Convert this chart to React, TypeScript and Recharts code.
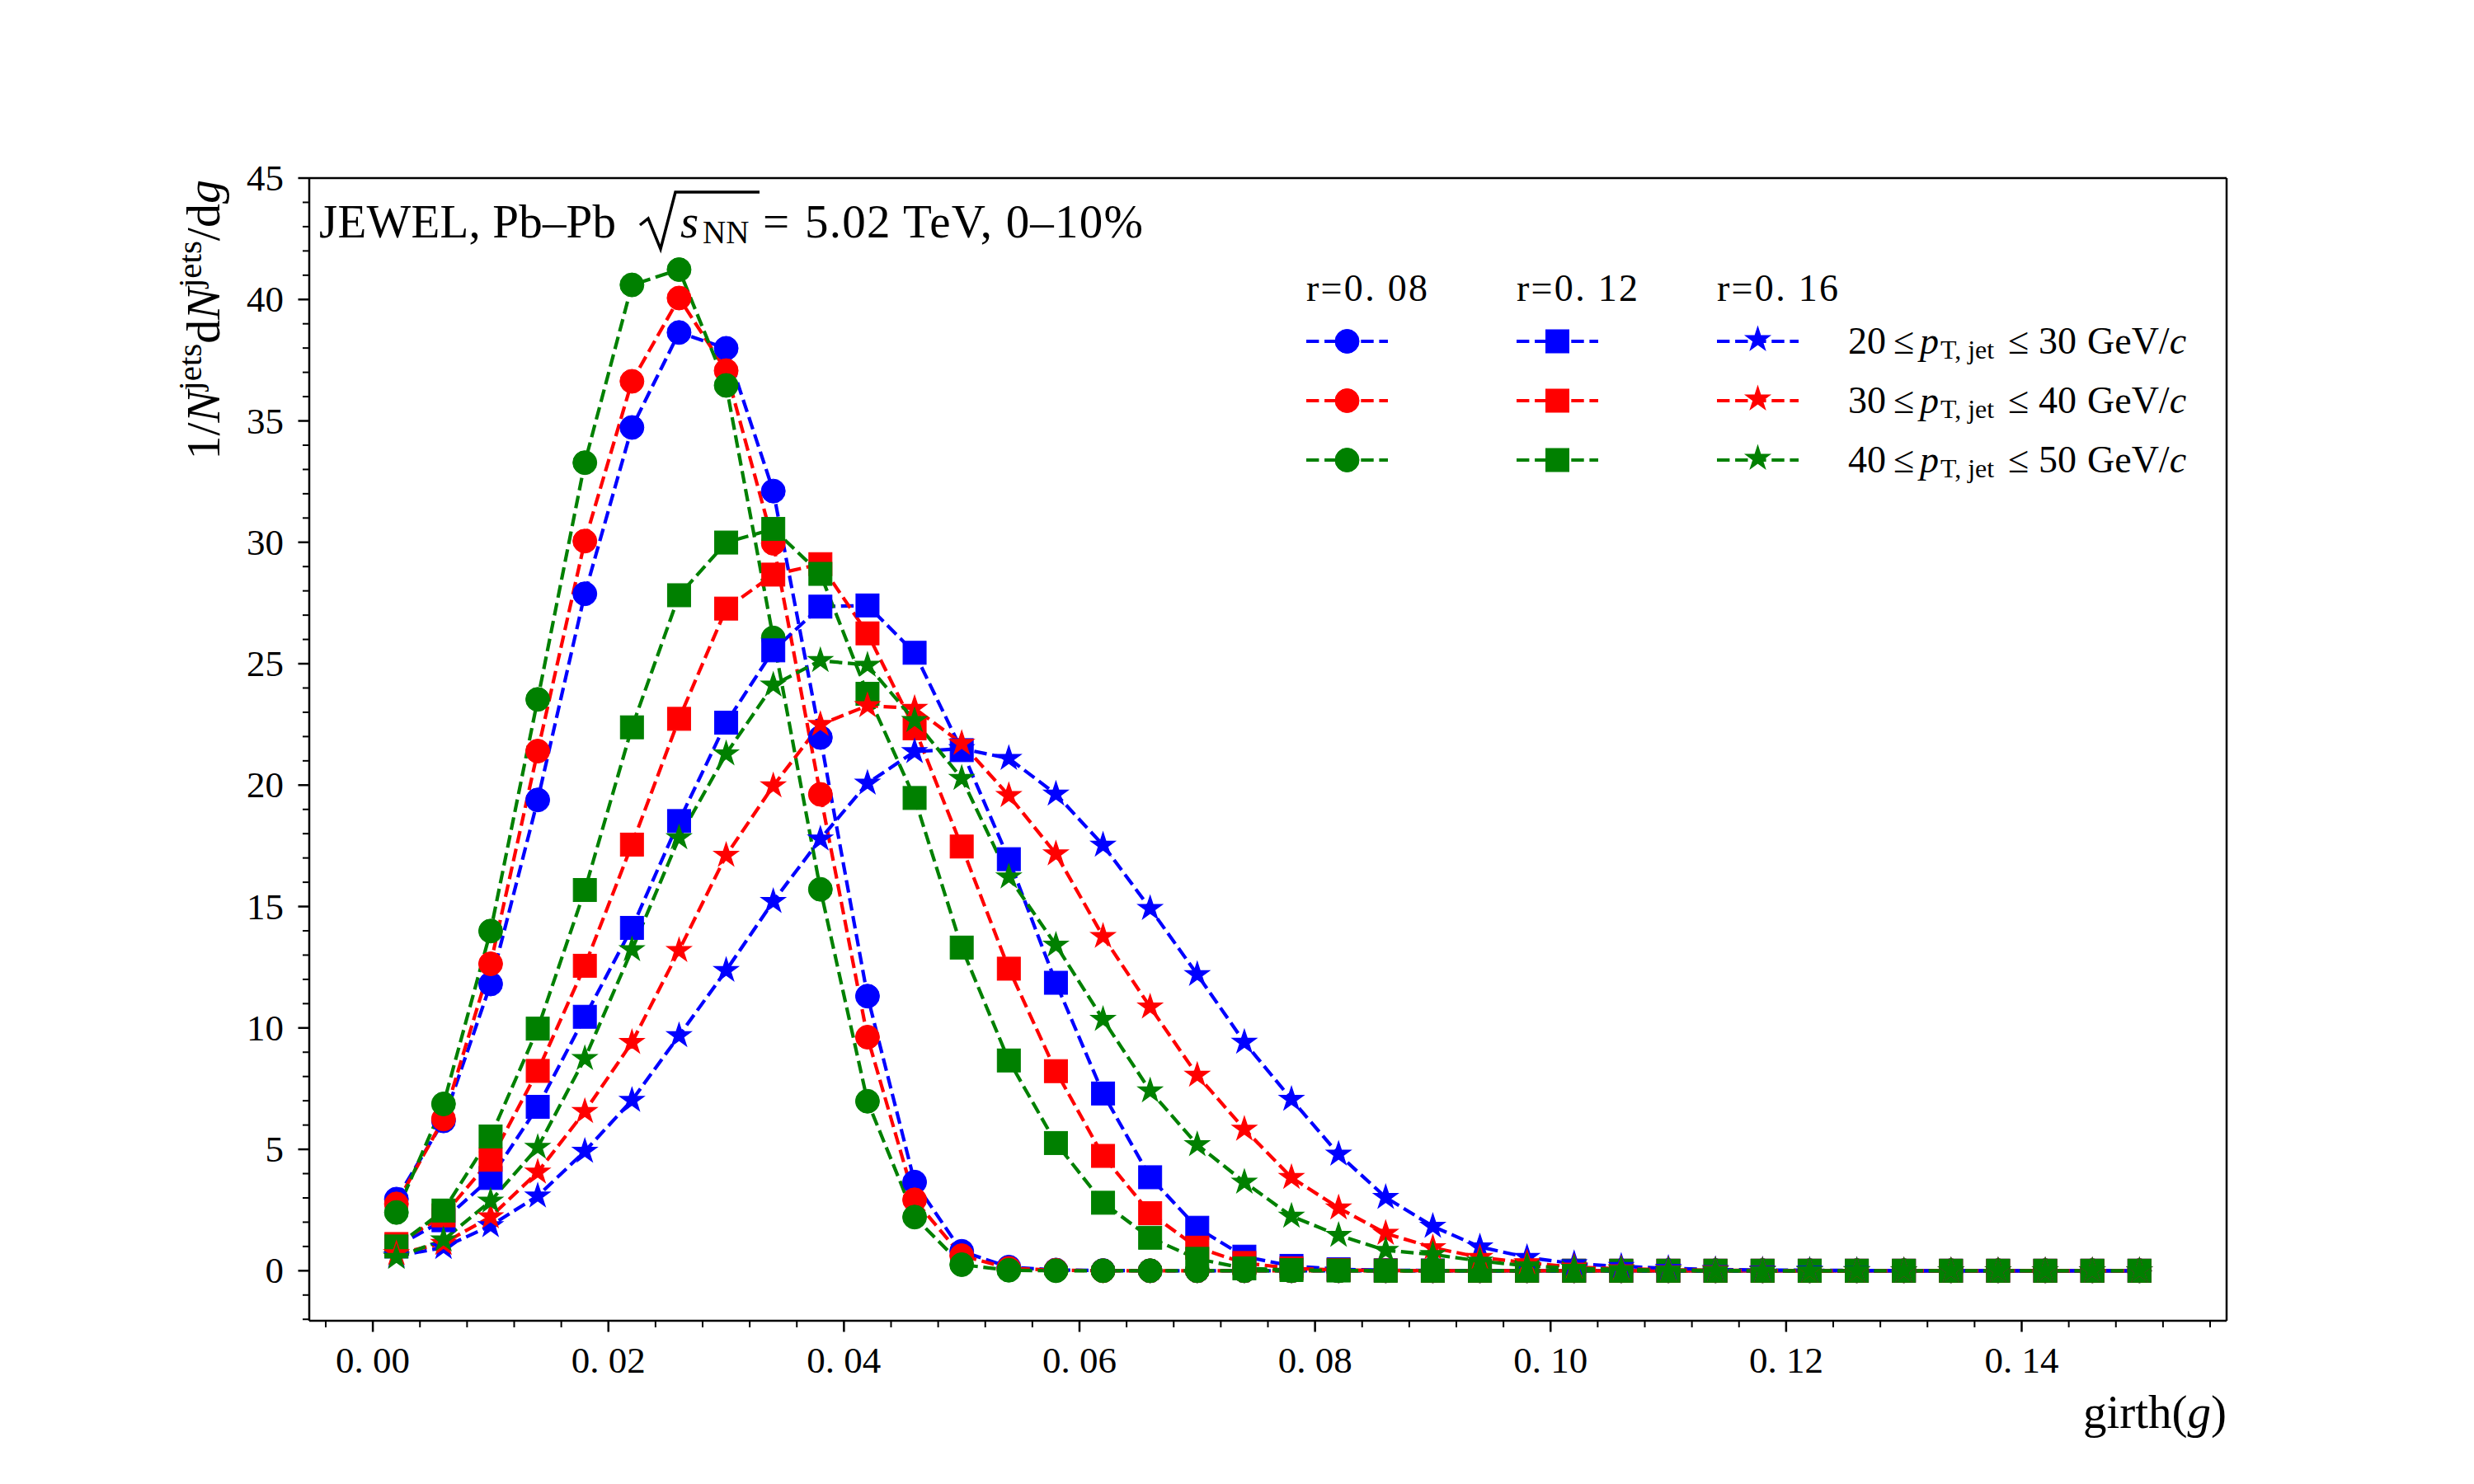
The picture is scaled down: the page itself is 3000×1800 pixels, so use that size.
import React from 'react';
import { LineChart, Line, XAxis, YAxis, ReferenceLine } from 'recharts';

// ---------- data ----------
const GIRTH = [
  0.002, 0.006, 0.010, 0.014, 0.018, 0.022, 0.026, 0.030, 0.034, 0.038,
  0.042, 0.046, 0.050, 0.054, 0.058, 0.062, 0.066, 0.070, 0.074, 0.078,
  0.082, 0.086, 0.090, 0.094, 0.098, 0.102, 0.106, 0.110, 0.114, 0.118,
  0.122, 0.126, 0.130, 0.134, 0.138, 0.142, 0.146, 0.150,
];

// r = 0.08 (circles)
const R008_PT20 = [
  2.95, 6.17, 11.81, 19.39, 27.88, 34.73, 38.64, 37.99, 32.11, 21.96,
  11.31, 3.65, 0.80, 0.15, 0.03, 0.01, 0, 0, 0, 0,
  0, 0, 0, 0, 0, 0, 0, 0, 0, 0,
  0, 0, 0, 0, 0, 0, 0, 0,
];
const R008_PT30 = [
  2.75, 6.25, 12.64, 21.40, 30.05, 36.63, 40.06, 37.07, 29.96, 19.62,
  9.62, 2.92, 0.62, 0.10, 0.02, 0, 0, 0, 0, 0,
  0, 0, 0, 0, 0, 0, 0, 0, 0, 0,
  0, 0, 0, 0, 0, 0, 0, 0,
];
const R008_PT40 = [
  2.40, 6.87, 13.99, 23.53, 33.28, 40.60, 41.23, 36.46, 26.06, 15.71,
  6.98, 2.21, 0.25, 0.02, 0, 0, 0, 0, 0, 0,
  0, 0, 0, 0, 0, 0, 0, 0, 0, 0,
  0, 0, 0, 0, 0, 0, 0, 0,
];

// r = 0.12 (squares)
const R012_PT20 = [
  1.00, 2.08, 3.82, 6.75, 10.46, 14.12, 18.52, 22.57, 25.55, 27.35,
  27.40, 25.45, 21.44, 16.95, 11.86, 7.30, 3.85, 1.77, 0.58, 0.20,
  0.06, 0.02, 0.01, 0, 0, 0, 0, 0, 0, 0,
  0, 0, 0, 0, 0, 0, 0, 0,
];
const R012_PT30 = [
  1.10, 2.28, 4.57, 8.23, 12.56, 17.55, 22.73, 27.27, 28.67, 29.10,
  26.25, 22.34, 17.47, 12.44, 8.22, 4.73, 2.37, 0.95, 0.32, 0.10,
  0.03, 0.01, 0, 0, 0, 0, 0, 0, 0, 0,
  0, 0, 0, 0, 0, 0, 0, 0,
];
const R012_PT40 = [
  1.00, 2.48, 5.53, 9.97, 15.68, 22.38, 27.82, 29.99, 30.55, 28.70,
  23.76, 19.47, 13.31, 8.66, 5.26, 2.80, 1.36, 0.49, 0.10, 0.03,
  0.01, 0, 0, 0, 0, 0, 0, 0, 0, 0,
  0, 0, 0, 0, 0, 0, 0, 0,
];

// r = 0.16 (stars)
const R016_PT20 = [
  0.60, 0.96, 1.86, 3.08, 4.92, 7.02, 9.68, 12.37, 15.21, 17.78,
  20.08, 21.38, 21.50, 21.10, 19.63, 17.53, 14.92, 12.20, 9.41, 7.06,
  4.80, 3.02, 1.83, 0.98, 0.55, 0.29, 0.18, 0.10, 0.05, 0.03,
  0.02, 0.01, 0, 0, 0, 0, 0, 0,
];
const R016_PT30 = [
  0.70, 1.13, 2.22, 4.06, 6.56, 9.40, 13.19, 17.11, 19.97, 22.50,
  23.27, 23.16, 21.72, 19.57, 17.17, 13.77, 10.86, 8.05, 5.83, 3.84,
  2.59, 1.54, 0.95, 0.55, 0.33, 0.15, 0.08, 0.04, 0.02, 0.01,
  0, 0, 0, 0, 0, 0, 0, 0,
];
const R016_PT40 = [
  0.55, 1.27, 2.87, 5.08, 8.74, 13.22, 17.83, 21.29, 24.12, 25.13,
  24.94, 22.66, 20.28, 16.22, 13.41, 10.35, 7.41, 5.19, 3.65, 2.25,
  1.46, 0.84, 0.67, 0.40, 0.20, 0.10, 0.05, 0.02, 0.01, 0,
  0, 0, 0, 0, 0, 0, 0, 0,
];

const X_MAJOR_TICKS = [0, 0.02, 0.04, 0.06, 0.08, 0.1, 0.12, 0.14];
const Y_MAJOR_TICKS = [0, 5, 10, 15, 20, 25, 30, 35, 40, 45];
const X_DOMAIN: [number, number] = [-0.0054, 0.1574];
const Y_DOMAIN: [number, number] = [-2.06, 45];
const X_MINOR_STEP = 0.004;
const Y_MINOR_STEP = 1;

const RADIUS_LABELS = ['r=0. 08', 'r=0. 12', 'r=0. 16'];
const PT_RANGES = [['20', '30'], ['30', '40'], ['40', '50']];
const COLORS = ['#0000ff', '#ff0000', '#008000'];
const MARKERS = ['circle', 'square', 'star'];

const SERIES = [
  { key: 'c20', values: R008_PT20, color: COLORS[0], marker: 'circle' },
  { key: 'c30', values: R008_PT30, color: COLORS[1], marker: 'circle' },
  { key: 'c40', values: R008_PT40, color: COLORS[2], marker: 'circle' },
  { key: 's20', values: R012_PT20, color: COLORS[0], marker: 'square' },
  { key: 's30', values: R012_PT30, color: COLORS[1], marker: 'square' },
  { key: 's40', values: R012_PT40, color: COLORS[2], marker: 'square' },
  { key: 't20', values: R016_PT20, color: COLORS[0], marker: 'star' },
  { key: 't30', values: R016_PT30, color: COLORS[1], marker: 'star' },
  { key: 't40', values: R016_PT40, color: COLORS[2], marker: 'star' },
];

const DATA = GIRTH.map((x, i) => {
  const row: any = { x };
  SERIES.forEach((s) => { row[s.key] = s.values[i]; });
  return row;
});

// minor + major tick positions
const X_TICKS: number[] = [];
for (let k = -1; k <= 39; k++) X_TICKS.push(Number((k * X_MINOR_STEP).toFixed(4)));
const Y_TICKS: number[] = [];
for (let k = -2; k <= 45; k++) Y_TICKS.push(k * Y_MINOR_STEP);

// ---------- styling ----------
const FONT = "'Liberation Serif', 'Times New Roman', Times, serif";
const W = 3000;
const H = 1800;
const PLOT_LEFT = 375;
const PLOT_RIGHT = 2700;
const PLOT_TOP = 216;
const PLOT_BOTTOM = 1602;
const LINE_W = 4.2;
const DASH = '15.4 6.7';
const SPINE_W = 2.5;

const isMajorX = (v: number) => X_MAJOR_TICKS.some((t) => Math.abs(t - v) < 1e-7);
const isMajorY = (v: number) => Y_MAJOR_TICKS.some((t) => Math.abs(t - v) < 1e-7);

const starPath = (cx: number, cy: number, R: number) => {
  const r = R * 0.381966;
  let d = '';
  for (let i = 0; i < 10; i++) {
    const rad = i % 2 === 0 ? R : r;
    const a = -Math.PI / 2 + (i * Math.PI) / 5;
    d += (i === 0 ? 'M' : 'L') + (cx + rad * Math.cos(a)).toFixed(2) + ' ' + (cy + rad * Math.sin(a)).toFixed(2) + ' ';
  }
  return d + 'Z';
};

const Marker = ({ marker, color, cx, cy }: any) => {
  if (marker === 'circle') return <circle cx={cx} cy={cy} r={14.5} fill={color} stroke={color} strokeWidth={1} />;
  if (marker === 'square')
    return <rect x={cx - 14} y={cy - 14} width={28} height={28} fill={color} stroke={color} strokeWidth={1} />;
  return <path d={starPath(cx, cy, 15)} fill={color} stroke={color} strokeWidth={1.5} strokeLinejoin="miter" />;
};

const makeDot = (marker: string, color: string) => (p: any) => {
  const { cx, cy, index } = p;
  if (cx == null || cy == null || isNaN(cx) || isNaN(cy)) return <g key={`e${index}`} />;
  return <Marker key={`m${index}`} marker={marker} color={color} cx={cx} cy={cy} />;
};

const fmtX = (v: number) => v.toFixed(2).replace('.', '. ');

const XTick = (props: any) => {
  const { x, y, payload } = props;
  const v = payload.value;
  const major = isMajorX(v);
  return (
    <g>
      <line x1={x} x2={x} y1={y} y2={y + (major ? 13.5 : 8)} stroke="#000" strokeWidth={major ? 2.5 : 2} />
      {major && (
        <text x={x} y={y + 63} textAnchor="middle" fontSize={45} fontFamily={FONT} fill="#000">
          {fmtX(v)}
        </text>
      )}
    </g>
  );
};

const YTick = (props: any) => {
  const { x, y, payload } = props;
  const v = payload.value;
  const major = isMajorY(v);
  return (
    <g>
      <line x1={x - (major ? 13.5 : 8)} x2={x} y1={y} y2={y} stroke="#000" strokeWidth={major ? 2.5 : 2} />
      {major && (
        <text x={x - 31} y={y + 15} textAnchor="end" fontSize={45} fontFamily={FONT} fill="#000">
          {String(v)}
        </text>
      )}
    </g>
  );
};

// ---------- overlay (title, axis titles, legend) ----------
const LEG_COL_X = [1584, 1839, 2082];
const LEG_ROW_Y = [414, 486, 558];
const LEG_HANDLE = 99;

const Overlay = () => (
  <svg width={W} height={H} style={{ position: 'absolute', left: 0, top: 0, pointerEvents: 'none' }}>
    {/* title */}
    <g fontFamily={FONT} fill="#000">
      <text x={387} y={288} fontSize={57} textLength={360} lengthAdjust="spacing">JEWEL, Pb–Pb</text>
      <path d="M 776 273 L 786 265 L 801 302 L 819 233 L 921 233" fill="none" stroke="#000" strokeWidth={3.5} strokeLinejoin="miter" />
      <text x={825} y={288} fontSize={57} fontStyle="italic">s</text>
      <text x={852} y={295} fontSize={39}>NN</text>
      <text x={925} y={288} fontSize={57}>=</text>
      <text x={976} y={288} fontSize={57} textLength={410} lengthAdjust="spacing">5.02 TeV, 0–10%</text>
    </g>

    {/* y label */}
    <text transform={`translate(266, 218) rotate(-90)`} textAnchor="end" fontFamily={FONT} fontSize={58} fill="#000">
      <tspan>1/</tspan>
      <tspan fontStyle="italic">N</tspan>
      <tspan fontSize={41} dy={-22}>jets</tspan>
      <tspan dy={22}>d</tspan>
      <tspan fontStyle="italic">N</tspan>
      <tspan fontSize={41} dy={-22}>jets</tspan>
      <tspan dy={22}>/d</tspan>
      <tspan fontStyle="italic">g</tspan>
    </text>

    {/* x label */}
    <text x={PLOT_RIGHT} y={1732} textAnchor="end" fontFamily={FONT} fontSize={57} fill="#000">
      <tspan>girth(</tspan>
      <tspan fontStyle="italic">g</tspan>
      <tspan>)</tspan>
    </text>

    {/* legend headers */}
    {RADIUS_LABELS.map((t, i) => (
      <text key={t} x={LEG_COL_X[i]} y={365} fontFamily={FONT} fontSize={46} fill="#000" textLength={147} lengthAdjust="spacing">
        {t}
      </text>
    ))}

    {/* legend handles */}
    {COLORS.map((c, row) =>
      MARKERS.map((m, col) => {
        const x0 = LEG_COL_X[col];
        const y0 = LEG_ROW_Y[row];
        return (
          <g key={`${row}-${col}`}>
            <line x1={x0} x2={x0 + LEG_HANDLE} y1={y0} y2={y0} stroke={c} strokeWidth={LINE_W} strokeDasharray={DASH} />
            <Marker marker={m} color={c} cx={x0 + LEG_HANDLE / 2} cy={m === 'star' ? y0 - 2 : y0} />
          </g>
        );
      })
    )}

    {/* legend labels */}
    {PT_RANGES.map(([lo, hi], row) => {
      const yb = LEG_ROW_Y[row] + 15;
      return (
        <text key={lo} fontFamily={FONT} fontSize={46} fill="#000">
          <tspan x={2241} y={yb}>{lo}</tspan>
          <tspan x={2296} y={yb}>≤</tspan>
          <tspan x={2328} y={yb} fontStyle="italic">p</tspan>
          <tspan x={2353} y={yb + 6} fontSize={32}>T, jet</tspan>
          <tspan x={2435} y={yb}>≤</tspan>
          <tspan x={2472} y={yb}>{hi}</tspan>
          <tspan x={2531} y={yb}>GeV/</tspan>
          <tspan fontStyle="italic">c</tspan>
        </text>
      );
    })}
  </svg>
);

export default function App() {
  return (
    <div style={{ position: 'relative', width: W, height: H, background: '#fff' }}>
      <style>{'body{margin:0;background:#fff;}'}</style>
      <LineChart
        width={W}
        height={H}
        data={DATA}
        margin={{ top: PLOT_TOP, right: W - PLOT_RIGHT, bottom: 0, left: 0 }}
      >
        <XAxis
          dataKey="x"
          type="number"
          domain={X_DOMAIN}
          allowDataOverflow
          ticks={X_TICKS}
          interval={0}
          tick={XTick}
          tickLine={false}
          tickSize={0}
          tickMargin={0}
          height={H - PLOT_BOTTOM}
          axisLine={{ stroke: '#000', strokeWidth: SPINE_W }}
        />
        <YAxis
          type="number"
          domain={Y_DOMAIN}
          allowDataOverflow
          ticks={Y_TICKS}
          interval={0}
          tick={YTick}
          tickLine={false}
          tickSize={0}
          tickMargin={0}
          width={PLOT_LEFT}
          axisLine={{ stroke: '#000', strokeWidth: SPINE_W }}
        />
        <ReferenceLine y={Y_DOMAIN[1]} stroke="#000" strokeWidth={SPINE_W} />
        <ReferenceLine x={X_DOMAIN[1]} stroke="#000" strokeWidth={SPINE_W} />
        {SERIES.map((s) => (
          <Line
            key={s.key}
            dataKey={s.key}
            type="linear"
            stroke={s.color}
            strokeWidth={LINE_W}
            strokeDasharray={DASH}
            dot={makeDot(s.marker, s.color)}
            activeDot={false}
            isAnimationActive={false}
            legendType="none"
          />
        ))}
      </LineChart>
      <Overlay />
    </div>
  );
}
